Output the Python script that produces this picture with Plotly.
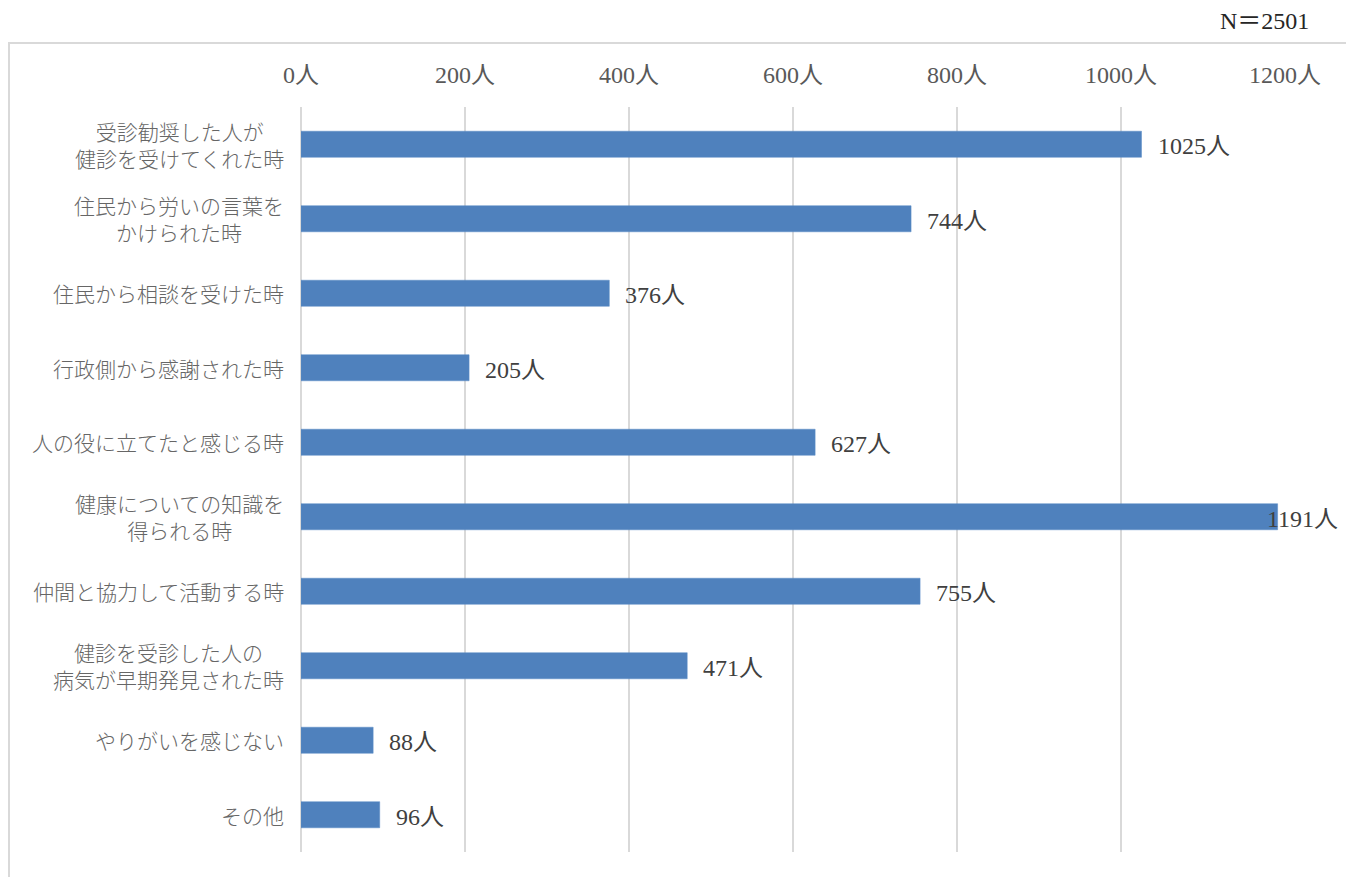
import plotly.graph_objects as go

categories = [
    "受診勧奨した人が<br>健診を受けてくれた時",
    "住民から労いの言葉を<br>かけられた時",
    "住民から相談を受けた時",
    "行政側から感謝された時",
    "人の役に立てたと感じる時",
    "健康についての知識を<br>得られる時",
    "仲間と協力して活動する時",
    "健診を受診した人の<br>病気が早期発見された時",
    "やりがいを感じない",
    "その他",
]
values = [1025, 744, 376, 205, 627, 1191, 755, 471, 88, 96]
tick_vals = [0, 200, 400, 600, 800, 1000, 1200]
tick_text = [f"{v}人" for v in tick_vals]
n_label = "N＝2501"

# page body has an 8px margin; lay out in window coordinates minus that offset
O = 8
W, H = 1354 - O, 877 - O
ML, MR, MT, MB = 301 - O, 69, 107 - O, 25
PW = W - ML - MR
PH = H - MT - MB
XMAX = 1200
px_per_unit = PW / XMAX

SERIF = "Liberation Serif, 'Noto Sans CJK JP', serif"
SANS = "'Noto Sans CJK JP', sans-serif"

fig = go.Figure()
fig.add_trace(go.Bar(
    y=categories, x=values, orientation="h",
    marker=dict(color="#4f81bd", line=dict(color="#5b8cc6", width=0.5)),
    width=0.35, hoverinfo="x+y",
))

annotations = []
for c in categories:
    annotations.append(dict(
        x=0, y=c, xref="paper", yref="y", text=c, showarrow=False,
        xanchor="right", yanchor="middle", align="center", xshift=-15,
        font=dict(family=SANS, size=21, color="#666666", weight=300),
    ))
max_px = (1265 - 301)
for c, v in zip(categories, values):
    px = min(v * px_per_unit + 14, max_px)
    annotations.append(dict(
        x=px / PW, y=c, xref="paper", yref="y", text=f"{v}人", showarrow=False,
        xanchor="left", yanchor="middle", yshift=-2,
        font=dict(family=SERIF, size=24, color="#404040"),
    ))
annotations.append(dict(
    x=(1311 - 301) / PW, y=(877 - 25 - 21) / PH, xref="paper", yref="paper",
    text=n_label, showarrow=False, xanchor="right", yanchor="middle",
    font=dict(family=SERIF, size=24, color="#262626"),
))

fig.update_layout(
    width=W, height=H,
    margin=dict(l=ML, r=MR, t=MT, b=MB),
    paper_bgcolor="white", plot_bgcolor="white",
    showlegend=False,
    annotations=annotations,
    shapes=[dict(
        type="rect", xref="paper", yref="paper",
        x0=(9 - 301) / PW, x1=(1352 - 301) / PW,
        y0=(852 - 880) / PH, y1=(852 - 43) / PH,
        line=dict(color="#d9d9d9", width=2), fillcolor="rgba(0,0,0,0)", layer="below",
    )],
    xaxis=dict(
        side="top", range=[0, XMAX], tickvals=tick_vals, ticktext=tick_text,
        showgrid=True, gridcolor="#d9d9d9", gridwidth=2,
        zeroline=True, zerolinecolor="#d9d9d9", zerolinewidth=2,
        showline=False, ticks="outside", ticklen=13, tickcolor="rgba(0,0,0,0)",
        tickfont=dict(family=SERIF, size=24, color="#595959"),
        fixedrange=True,
    ),
    yaxis=dict(
        autorange="reversed", showticklabels=False, showgrid=False,
        zeroline=False, showline=False, fixedrange=True,
    ),
)

fig.write_html("out.html")
